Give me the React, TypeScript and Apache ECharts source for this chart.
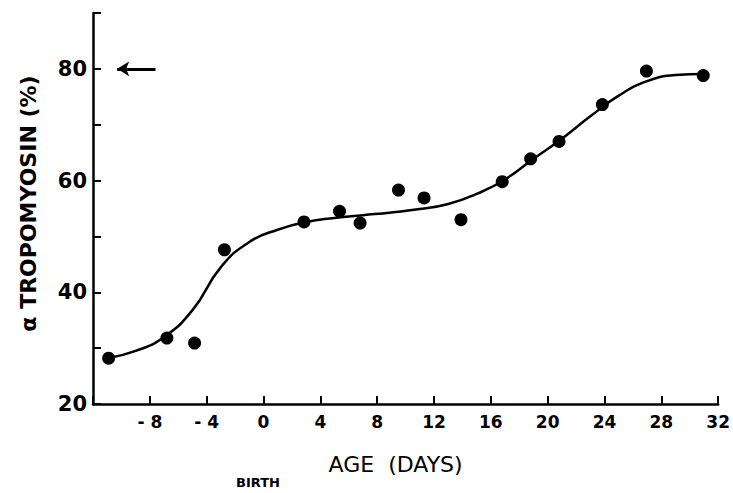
import React, { useEffect, useRef } from "react";
import * as echarts from "echarts";

// Measured α-tropomyosin content (%) against age in days (0 = birth)
const pointAge = [-10.9, -6.8, -4.85, -2.75, 2.85, 5.35, 6.8, 9.5, 11.3, 13.9, 16.8, 18.8, 20.8, 23.85, 26.95, 30.95];
const pointPct = [28.2, 31.8, 30.9, 47.6, 52.6, 54.5, 52.4, 58.3, 56.9, 53.0, 59.8, 63.9, 67.0, 73.6, 79.6, 78.8];

// Hand-fitted trend curve, read every 2 days
const curveAge = [-11, -9, -7, -5, -3, -1, 1, 3, 5, 7, 9, 11, 13, 15, 17, 19, 21, 23, 25, 27, 29, 31];
const curvePct = [28.2, 29.5, 32, 36.8, 44.5, 49, 51.2, 52.6, 53.3, 53.8, 54.3, 54.9, 55.8, 57.6, 60.2, 63.9, 67.5, 71.5, 75.2, 77.8, 78.9, 79.1];

// Adult level marker (arrow at 80 %)
const adultArrow = { fromAge: -7.6, toAge: -10.3, pct: 80 };

const FONT = "DejaVu Sans";

export default function App() {
  const ref = useRef<HTMLDivElement>(null);

  useEffect(() => {
    if (!ref.current) return;
    const chart = echarts.init(ref.current, null, { renderer: "svg" });
    const points = pointAge.map((a, i) => [a, pointPct[i]]);
    const curve = curveAge.map((a, i) => [a, curvePct[i]]);

    chart.setOption({
      animation: false,
      backgroundColor: "#ffffff",
      grid: { left: 93, right: 11, top: 13, bottom: 89, containLabel: false },
      xAxis: {
        type: "value",
        min: -12,
        max: 32,
        interval: 4,
        name: "AGE  (DAYS)",
        nameLocation: "middle",
        nameGap: 49,
        nameTextStyle: { color: "#000", fontFamily: FONT, fontSize: 22, padding: [0, 20, 0, 0] },
        axisLine: { onZero: false, lineStyle: { color: "#000", width: 2.5 } },
        axisTick: { inside: true, length: 8, lineStyle: { color: "#000", width: 2 } },
        axisLabel: {
          color: "#000",
          fontFamily: FONT,
          fontWeight: "bold",
          fontSize: 17,
          margin: 9,
          formatter: (v: number) => (v === -12 ? "" : v < 0 ? "- " + Math.abs(v) : String(v)),
        },
        splitLine: { show: false },
      },
      yAxis: {
        type: "value",
        min: 20,
        max: 90,
        interval: 10,
        name: "α TROPOMYOSIN (%)",
        nameLocation: "middle",
        nameRotate: 90,
        nameGap: 54,
        nameTextStyle: { color: "#000", fontFamily: FONT, fontWeight: "bold", fontSize: 22, padding: [0, 0, 0, 10] },
        axisLine: { onZero: false, lineStyle: { color: "#000", width: 2.5 } },
        axisTick: { inside: true, length: 8, lineStyle: { color: "#000", width: 2 } },
        axisLabel: {
          color: "#000",
          fontFamily: FONT,
          fontWeight: "bold",
          fontSize: 21,
          margin: 6,
          formatter: (v: number) => (v % 20 === 0 && v < 90 ? String(v) : ""),
        },
        splitLine: { show: false },
      },
      series: [
        {
          type: "line",
          data: curve,
          smooth: 0.5,
          showSymbol: false,
          lineStyle: { color: "#000", width: 2.5 },
          markLine: {
            silent: true,
            symbol: ["none", "arrow"],
            symbolSize: [11, 12],
            label: { show: false },
            lineStyle: { color: "#000", width: 3, type: "solid" },
            data: [
              [
                { coord: [adultArrow.fromAge, adultArrow.pct] },
                { coord: [adultArrow.toAge, adultArrow.pct] },
              ],
            ],
          },
        },
        {
          type: "scatter",
          data: points,
          symbol: "circle",
          symbolSize: 13,
          itemStyle: { color: "#000", opacity: 1 },
        },
      ],
      graphic: [
        {
          type: "text",
          left: 236,
          top: 476,
          style: { text: "BIRTH", fill: "#000", font: `bold 13px "${FONT}"` },
        },
      ],
    });

    return () => chart.dispose();
  }, []);

  return (
    <div
      ref={ref}
      style={{ position: "fixed", left: 0, top: 0, width: 733, height: 493, background: "#fff" }}
    />
  );
}
